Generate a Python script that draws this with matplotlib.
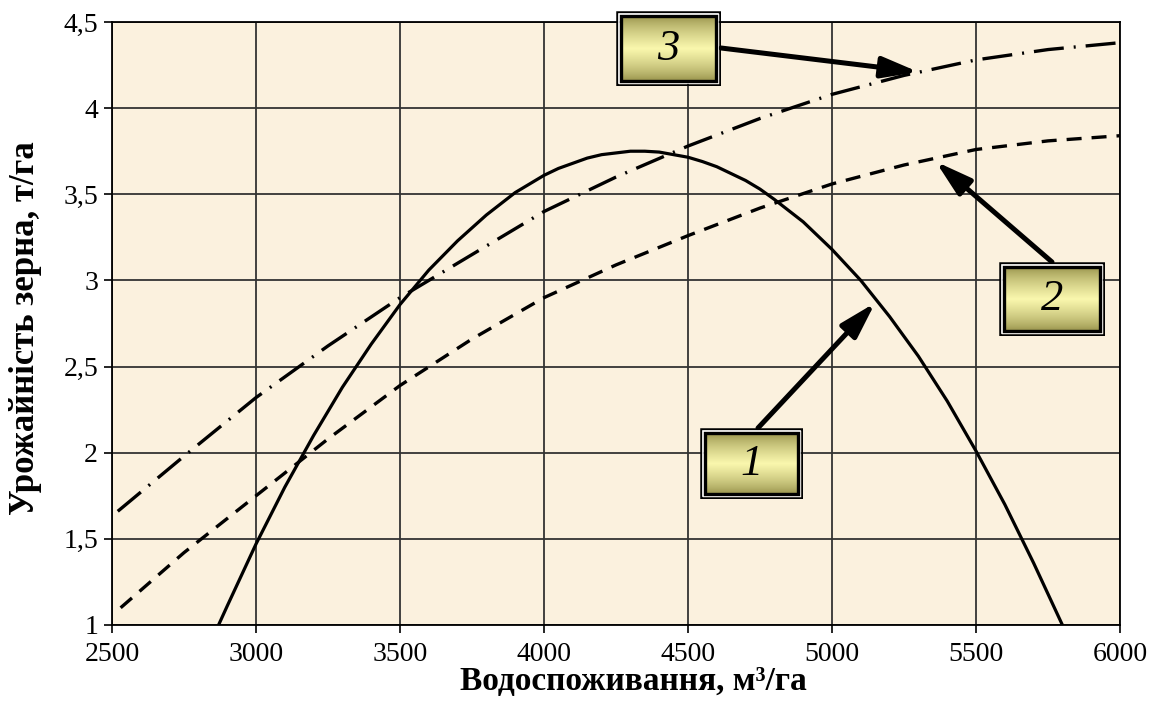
import numpy as np
import matplotlib.pyplot as plt
from matplotlib.patches import Rectangle

plt.rcParams['font.family'] = ['Liberation Serif', 'DejaVu Serif']

# curve 1 (solid)
x1 = [2870, 2900, 3000, 3100, 3200, 3300, 3400, 3500, 3600, 3700, 3800, 3900,
      3950, 4000, 4050, 4100, 4150, 4200, 4250, 4300, 4350, 4400, 4450, 4500,
      4550, 4600, 4650, 4700, 4750, 4800, 4900, 5000, 5100, 5200, 5300, 5400,
      5500, 5600, 5700, 5800]
y1 = [1.00, 1.11, 1.47, 1.80, 2.10, 2.38, 2.63, 2.86, 3.06, 3.23, 3.38, 3.51,
      3.56, 3.61, 3.65, 3.68, 3.71, 3.73, 3.74, 3.75, 3.75, 3.745, 3.73, 3.715,
      3.69, 3.66, 3.62, 3.58, 3.53, 3.47, 3.34, 3.18, 3.00, 2.79, 2.56, 2.30,
      2.01, 1.70, 1.36, 1.00]

# curve 2 (dashed)
x2 = [2530, 2750, 3000, 3250, 3500, 3750, 4000, 4250, 4500, 4750, 5000, 5250,
      5500, 5750, 6000]
y2 = [1.10, 1.42, 1.75, 2.08, 2.39, 2.66, 2.90, 3.09, 3.26, 3.42, 3.56, 3.67,
      3.76, 3.81, 3.84]

# curve 3 (dash-dot)
x3 = [2520, 2750, 3000, 3250, 3500, 3750, 4000, 4250, 4500, 4750, 5000, 5250,
      5500, 5750, 6000]
y3 = [1.66, 1.98, 2.32, 2.62, 2.90, 3.15, 3.40, 3.60, 3.78, 3.94, 4.08, 4.19,
      4.28, 4.34, 4.38]

x_ticks = [2500, 3000, 3500, 4000, 4500, 5000, 5500, 6000]
y_ticks = [1, 1.5, 2, 2.5, 3, 3.5, 4, 4.5]
y_tick_labels = ['1', '1,5', '2', '2,5', '3', '3,5', '4', '4,5']

x_label = 'Водоспоживання, м³/га'
y_label = 'Урожайність зерна, т/га'

# label boxes: text, box (left, top, right, bottom) in px, arrow tail px, arrow tip data
labels = ['3', '2', '1']
label_boxes = [(616, 11, 721, 86), (999, 262, 1105, 336), (700, 428, 803, 499)]
arrow_tails = [(721, 48), (1052, 262), (758, 428)]
arrow_tips = [(5300, 4.21), (5360, 3.69), (5150, 2.87)]

W, H = 1167, 704
fig = plt.figure(figsize=(W / 100, H / 100), dpi=100)
ax = fig.add_axes([112 / W, 1 - 625 / H, 1008 / W, 603 / H])
ax.set_facecolor('#fbf1de')

ax.plot(x1, y1, color='black', lw=2.3, zorder=3)
ax.plot(x2, y2, color='black', lw=2.4, dashes=(4.5, 3.0), zorder=3)
ax.plot(x3, y3, color='black', lw=2.4, dashes=(9.0, 3.0, 0.6, 3.0), zorder=3)

ax.set_xlim(2500, 6000)
ax.set_ylim(1, 4.5)
ax.set_xticks(x_ticks)
ax.set_yticks(y_ticks)
ax.set_yticklabels(y_tick_labels)
ax.grid(True, color='#333333', lw=1.3)
ax.set_axisbelow(True)
for s in ax.spines.values():
    s.set_linewidth(1.3)
ax.tick_params(direction='out', length=6, width=1.2, labelsize=20, pad=4)
ax.tick_params(axis='x', pad=6)

fig.text(633 / W, 1 - 682 / H, x_label, fontsize=24, fontweight='bold',
         ha='center', va='center')
fig.text(26 / W, 1 - 328 / H, y_label, fontsize=25, fontweight='bold',
         ha='center', va='center', rotation=90)

# arrows
for tail, tip in zip(arrow_tails, arrow_tips):
    ax.annotate('', xy=tip, xycoords='data',
                xytext=(tail[0], H - tail[1]), textcoords='figure pixels',
                annotation_clip=False,
                arrowprops=dict(arrowstyle='-|>,head_length=0.55,head_width=0.16',
                                mutation_scale=40, lw=3.6, color='black',
                                shrinkA=0, shrinkB=0))

# gradient boxes
t = np.linspace(0, 1, 100)
shade = 1 - np.abs(t - 0.5) * 2
top = np.array([0.58, 0.56, 0.28])
mid = np.array([0.98, 0.97, 0.68])
grad = top[None, :] + (mid - top)[None, :] * (shade[:, None] ** 0.7)
grad = grad[:, None, :]

for text, (l, tp, r, b) in zip(labels, label_boxes):
    w, h = r - l, b - tp
    bx = fig.add_axes([l / W, 1 - b / H, w / W, h / H])
    bx.axis('off')
    bx.imshow(grad, extent=[5, w - 5, 5, h - 5], aspect='auto', zorder=1)
    bx.set_xlim(0, w)
    bx.set_ylim(0, h)
    bx.add_patch(Rectangle((1.2, 1.2), w - 2.4, h - 2.4, fill=False,
                           ec='black', lw=1.8, zorder=2))
    bx.add_patch(Rectangle((3, 3), w - 6, h - 6, fill=False,
                           ec='white', lw=1.2, zorder=2))
    bx.add_patch(Rectangle((5, 5), w - 10, h - 10, fill=False,
                           ec='black', lw=2.4, zorder=2))
    bx.text(w / 2, h / 2, text, ha='center', va='center', fontsize=32,
            style='italic', zorder=3)

fig.savefig('out.png', dpi=100)
